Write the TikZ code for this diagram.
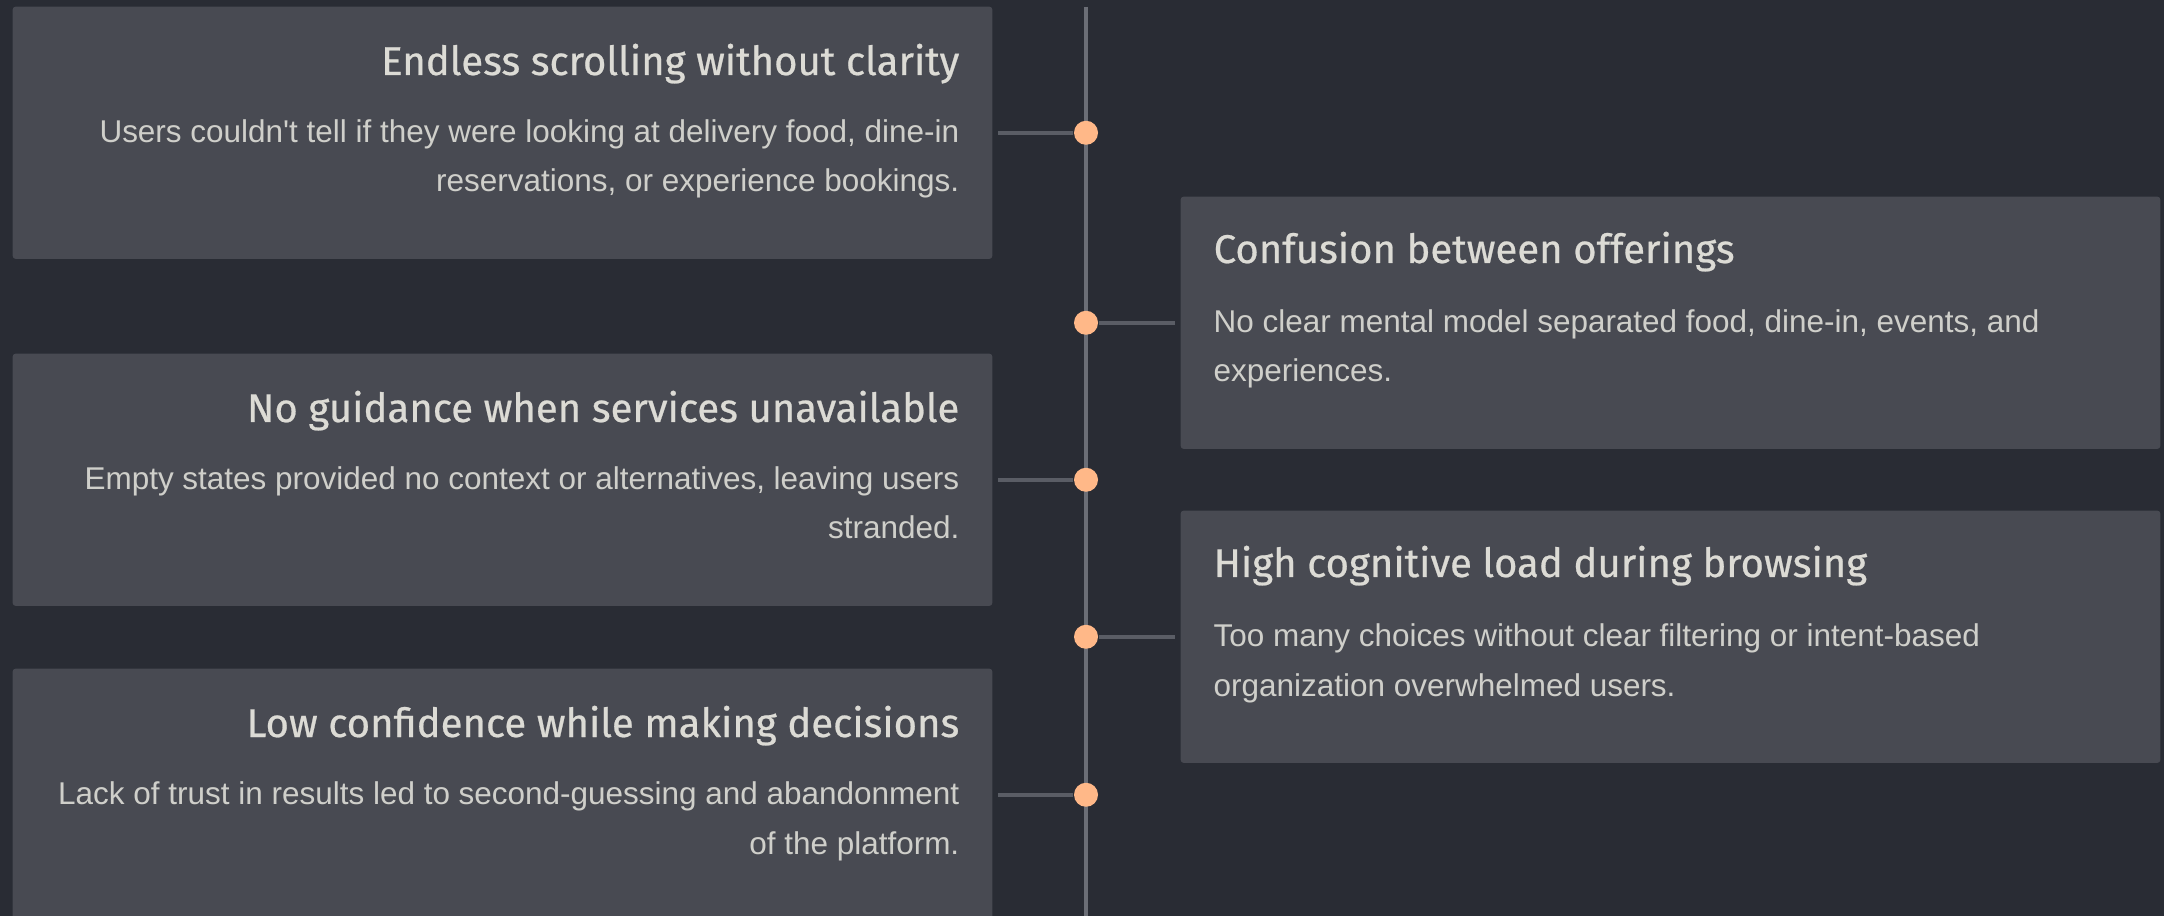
\documentclass[tikz,border=0pt]{standalone}
\usepackage{fontspec}
\newfontfamily\headfont[FakeBold=0.6]{Fira Sans}
\newfontfamily\bodyfont{Liberation Sans}
\usetikzlibrary{positioning,calc}

\definecolor{bgcol}{HTML}{292C34}
\definecolor{cardcol}{HTML}{484A52}
\definecolor{spinecol}{HTML}{6B6E76}
\definecolor{stubcol}{HTML}{5A5D65}
\definecolor{dotcol}{HTML}{FFB888}
\definecolor{headcol}{HTML}{DCDBD5}
\definecolor{bodycol}{HTML}{CFCFCA}

\begin{document}
\begin{tikzpicture}[
x=0.01cm, y=-0.01cm,
cardbox/.style = {fill=cardcol, rounded corners=0.8pt, inner sep=0pt,
  minimum width=9.79cm, minimum height=2.52cm},
headtxt/.style = {text=headcol, inner sep=0pt,
  font=\headfont\fontsize{11.4}{13}\selectfont},
bodytxt/.style = {text=bodycol, inner sep=0pt,
  font=\bodyfont\fontsize{8.95}{14.2}\selectfont},
dotmark/.style = {circle, fill=dotcol, inner sep=0pt, minimum size=0.24cm},
stub/.style = {draw=stubcol, line width=1.1pt},
spine/.style = {draw=spinecol, line width=0.9pt} ]

\useasboundingbox (0,0) rectangle (2164,916);
\clip (0,0) rectangle (2164,916);
\fill[bgcol] (0,0) rectangle (2164,916);

% timeline
\coordinate (top) at (1086,7);
\coordinate (bottom) at (1086,916);
\draw[spine] (top) -- (bottom);

% cards
\node[cardbox, anchor=north west] (b1) at (12,6) {};
\node[cardbox, anchor=north west] (b2) at (1180,196) {};
\node[cardbox, anchor=north west] (b3) at (12,353) {};
\node[cardbox, anchor=north west] (b4) at (1180,510) {};
\node[cardbox, anchor=north west] (b5) at (12,668) {};

% left side texts (base = last line)
\node[headtxt, anchor=base east] (t1) at ($(b1.north east)+(-33,69)$) {Endless scrolling without clarity};
\node[bodytxt, anchor=base east, align=right] (s1) at ($(b1.north east)+(-33,186)$)
  {Users couldn't tell if they were looking at delivery food, dine-in\\reservations, or experience bookings.};
\node[headtxt, anchor=base east] (t3) at ($(b3.north east)+(-33,69)$) {No guidance when services unavailable};
\node[bodytxt, anchor=base east, align=right] (s3) at ($(b3.north east)+(-33,186)$)
  {Empty states provided no context or alternatives, leaving users\\stranded.};
\node[headtxt, anchor=base east] (t5) at ($(b5.north east)+(-33,69)$) {Low confidence while making decisions};
\node[bodytxt, anchor=base east, align=right] (s5) at ($(b5.north east)+(-33,186)$)
  {Lack of trust in results led to second-guessing and abandonment\\of the platform.};

% right side texts
\node[headtxt, anchor=base west] (t2) at ($(b2.north west)+(33,67)$) {Confusion between offerings};
\node[bodytxt, anchor=base west, align=left] (s2) at ($(b2.north west)+(33,186)$)
  {No clear mental model separated food, dine-in, events, and\\experiences.};
\node[headtxt, anchor=base west] (t4) at ($(b4.north west)+(33,67)$) {High cognitive load during browsing};
\node[bodytxt, anchor=base west, align=left] (s4) at ($(b4.north west)+(33,186)$)
  {Too many choices without clear filtering or intent-based\\organization overwhelmed users.};

% markers on the timeline
\node[dotmark] (d1) at (b1.east -| top) {};
\node[dotmark] (d2) at (b2.west -| top) {};
\node[dotmark] (d3) at (b3.east -| top) {};
\node[dotmark] (d4) at (b4.west -| top) {};
\node[dotmark] (d5) at (b5.east -| top) {};

\draw[stub] ($(b1.east)+(5,0)$) -- (d1);
\draw[stub] (d2) -- ($(b2.west)+(-5,0)$);
\draw[stub] ($(b3.east)+(5,0)$) -- (d3);
\draw[stub] (d4) -- ($(b4.west)+(-5,0)$);
\draw[stub] ($(b5.east)+(5,0)$) -- (d5);

\end{tikzpicture}
\end{document}
